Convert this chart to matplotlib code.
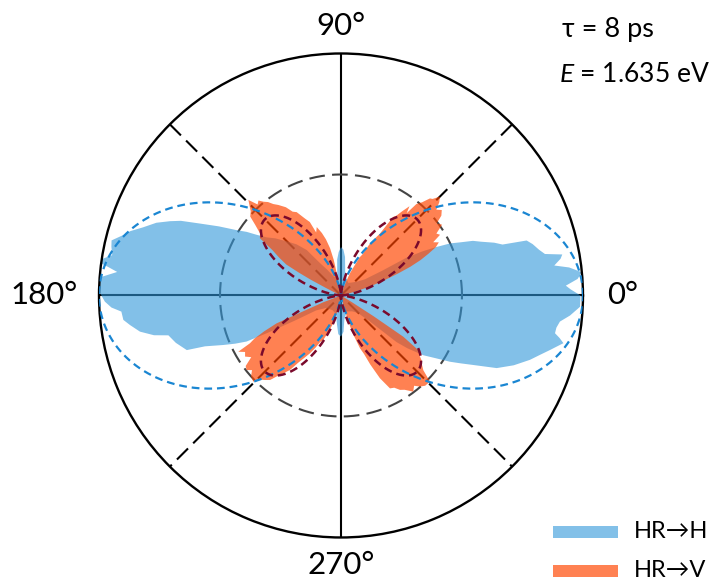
import numpy as np
import matplotlib
matplotlib.use("Agg")
import matplotlib.pyplot as plt
from matplotlib.patches import Rectangle

plt.rcParams['font.family'] = ['Lato', 'DejaVu Sans']
plt.rcParams['mathtext.fontset'] = 'custom'
plt.rcParams['mathtext.it'] = 'Lato:italic'
plt.rcParams['mathtext.rm'] = 'Lato'

# ---------------- data (angles in degrees, normalised radius) ----------------
blue_deg = [0, 1.5, 2.5, 4, 5.5, 7, 8, 9.5, 10.5, 11.5, 13, 15, 16.5, 17.5, 19, 21, 22.5, 24,
            25.5, 27, 28.5, 30, 31, 34, 40, 50, 60, 70, 80, 84, 87, 90, 93, 96, 100, 110,
            118, 123, 127, 131, 135, 139, 142, 144.3, 146, 148, 150.5, 153, 155, 156.5,
            158.5, 161, 163, 164.5, 166.5, 168, 170, 172, 173, 174, 175.5, 177, 179, 181.5,
            183, 184.2, 186.4, 188, 190.2, 192, 193, 196, 199.5, 200.5, 202.8, 204.5, 206,
            207, 208.5, 211, 220, 240, 255, 262, 266, 270, 274, 278, 290, 305, 314, 318,
            320, 321.5, 324, 326.5, 328.7, 330.5, 332.3, 335, 338, 341.2, 343.5, 345.4,
            347.9, 349, 350, 351.5, 353.2, 355, 357.3, 360]
blue_r = [0.99, 0.95, 0.93, 0.98, 1.0, 0.95, 0.89, 0.92, 0.93, 0.86, 0.84, 0.82, 0.80, 0.70,
          0.67, 0.62, 0.59, 0.54, 0.50, 0.44, 0.38, 0.31, 0.20, 0.12, 0.09, 0.07, 0.06, 0.07,
          0.10, 0.16, 0.19, 0.20, 0.18, 0.15, 0.09, 0.08, 0.12, 0.16, 0.235, 0.28, 0.316,
          0.36, 0.39, 0.43, 0.47, 0.51, 0.58, 0.655, 0.73, 0.77, 0.82, 0.865, 0.91, 0.934,
          0.975, 0.97, 0.96, 1.02, 0.97, 0.93, 0.99, 1.0, 1.0, 0.976, 0.95, 0.91, 0.905,
          0.88, 0.844, 0.79, 0.732, 0.71, 0.676, 0.60, 0.528, 0.48, 0.434, 0.34, 0.22,
          0.12, 0.08, 0.07, 0.08, 0.12, 0.16, 0.17, 0.15, 0.10, 0.07, 0.08, 0.10, 0.16,
          0.30, 0.35, 0.42, 0.47, 0.527, 0.57, 0.618, 0.71, 0.77, 0.825, 0.86, 0.893,
          0.94, 0.92, 0.898, 0.90, 0.911, 0.95, 0.989, 0.99]

red_deg = [0, 12, 15, 17, 19, 21, 22.5, 24, 25.5, 27, 28.5, 30, 31.5, 33, 35, 37, 38.5, 40.3,
           42, 43.5, 45, 46.5, 47.5, 49, 50.5, 51.4, 52.5, 54, 55.3, 56.4, 57.9, 59.5, 61,
           62.5, 64, 66, 68, 70, 73, 76,
           99, 100.5, 101.5, 103, 105, 107, 109.5, 111.5, 113, 115, 118, 120, 122, 124.7,
           126.5, 128, 129.6, 131, 132.5, 134.1, 135.5, 137, 139, 140.5, 142.5, 144.8,
           146.5, 148.5, 150.5, 151.5, 152.5, 153.5, 155, 157,
           199, 201, 202.5, 203.4, 205, 206.5, 207.7, 208.7, 210.5, 212.5, 214.5, 216.5,
           218.3, 220, 222, 224.5, 226.5, 228, 230, 232, 233.5, 235.6, 237.5, 239.5, 241.8,
           244, 246, 248.3, 251, 254.5, 257, 260, 263,
           282, 284, 285.5, 287, 289.8, 291.5, 293, 295.2, 297.8, 300, 302, 304, 306.9, 309,
           310.9, 313, 315.9, 317.8, 319.5, 321, 322.5, 324.6, 326.5, 327.5, 328.5, 330, 360]
red_r = [0.0, 0.01, 0.05, 0.12, 0.18, 0.25, 0.31, 0.36, 0.40, 0.44, 0.46, 0.44, 0.48, 0.47,
         0.51, 0.495, 0.53, 0.546, 0.53, 0.56, 0.578, 0.55, 0.544, 0.51, 0.49, 0.435, 0.465,
         0.43, 0.40, 0.39, 0.30, 0.27, 0.24, 0.19, 0.175, 0.13, 0.10, 0.06, 0.02, 0.0,
         0.0, 0.08, 0.15, 0.20, 0.24, 0.27, 0.30, 0.28, 0.33, 0.35, 0.39, 0.40, 0.43, 0.455,
         0.47, 0.49, 0.503, 0.52, 0.51, 0.55, 0.53, 0.51, 0.497, 0.46, 0.422, 0.41,
         0.34, 0.30, 0.26, 0.20, 0.14, 0.07, 0.02, 0.0,
         0.0, 0.08, 0.15, 0.29, 0.35, 0.40, 0.425, 0.484, 0.46, 0.47, 0.45, 0.49,
         0.497, 0.48, 0.50, 0.508, 0.48, 0.47, 0.456, 0.42, 0.40, 0.373, 0.33, 0.30, 0.271,
         0.24, 0.21, 0.198, 0.16, 0.119, 0.07, 0.02, 0.0,
         0.0, 0.05, 0.10, 0.16, 0.232, 0.26, 0.31, 0.378, 0.434, 0.44, 0.46, 0.47, 0.497, 0.48,
         0.498, 0.51, 0.512, 0.459, 0.44, 0.43, 0.41, 0.40, 0.309, 0.16, 0.05, 0.0, 0.0]

# model curve amplitudes (dashed): HR->H ~ cos^2, HR->V ~ sin^2(2θ)
blue_model_amp = 1.0
red_model_amp = 0.445
ref_circle_r = 0.5

angle_labels = ['0°', '90°', '180°', '270°']
legend_labels = ['HR→H', 'HR→V']
blue_col = '#2F96D9'
red_col = '#FF4500'

# ---------------- figure ----------------
fig = plt.figure(figsize=(7.09, 5.82), dpi=100)
ax = fig.add_axes([0.1396, 0.0765, 0.6827, 0.8316], projection='polar')
ax.set_ylim(0, 1)
ax.set_xticks([])
ax.set_yticks([])
ax.grid(False)
ax.spines['polar'].set_linewidth(1.7)
ax.spines['polar'].set_color('black')

# reference lines
for t in [45, 135]:
    th = np.deg2rad(t)
    ax.plot([th, th, th + np.pi, th + np.pi], [1, 0, 0, 1], color='black', lw=1.5,
            dashes=(7.5, 3.5), zorder=1)
for t in [0, 90]:
    th = np.deg2rad(t)
    ax.plot([th, th, th + np.pi, th + np.pi], [1, 0, 0, 1], color='black', lw=1.5, zorder=1)
tc = np.linspace(0, 2 * np.pi, 361)
ax.plot(tc, np.full_like(tc, ref_circle_r), color='#444444', lw=1.5, dashes=(7.5, 3.5), zorder=1)

# data fills
ax.fill(np.deg2rad(blue_deg), blue_r, color=blue_col, alpha=0.6, lw=0, zorder=2)
ax.fill(np.deg2rad(red_deg), red_r, color=red_col, alpha=0.68, lw=0, zorder=3)

# model curves
tm = np.linspace(0, 2 * np.pi, 721)
ax.plot(tm, blue_model_amp * np.cos(tm) ** 2, color='#1A86D2', lw=1.6, dashes=(3.5, 2.2), zorder=4)
ax.plot(tm, red_model_amp * np.sin(2 * tm) ** 2, color='#7A0A2C', lw=1.8, dashes=(3.2, 2.0), zorder=5)

# angle labels
fs = 22.5
ax.text(0, 1.165, angle_labels[0], ha='center', va='center', fontsize=fs)
ax.text(np.pi / 2, 1.115, angle_labels[1], ha='center', va='center', fontsize=fs)
ax.text(np.pi, 1.225, angle_labels[2], ha='center', va='center', fontsize=fs)
ax.text(3 * np.pi / 2, 1.115, angle_labels[3], ha='center', va='center', fontsize=fs)

W, H = 709, 582
fig.text(562 / W, 1 - 30 / H, 'τ = 8 ps', ha='left', va='center', fontsize=19.5)
fig.text(559 / W, 1 - 75 / H, r'$\it{E}$ = 1.635 eV', ha='left', va='center', fontsize=19)

# legend
for i, (lab, col) in enumerate(zip(legend_labels, [blue_col, red_col])):
    yc = [531.5, 570.5][i]
    fig.patches.append(Rectangle((553 / W, 1 - (yc + 6) / H), 65 / W, 12 / H,
                                 transform=fig.transFigure, color=col, alpha=0.6 if i == 0 else 0.68,
                                 lw=0))
    fig.text(634 / W, 1 - yc / H, lab, ha='left', va='center', fontsize=17)

fig.savefig('out.png', dpi=100)
